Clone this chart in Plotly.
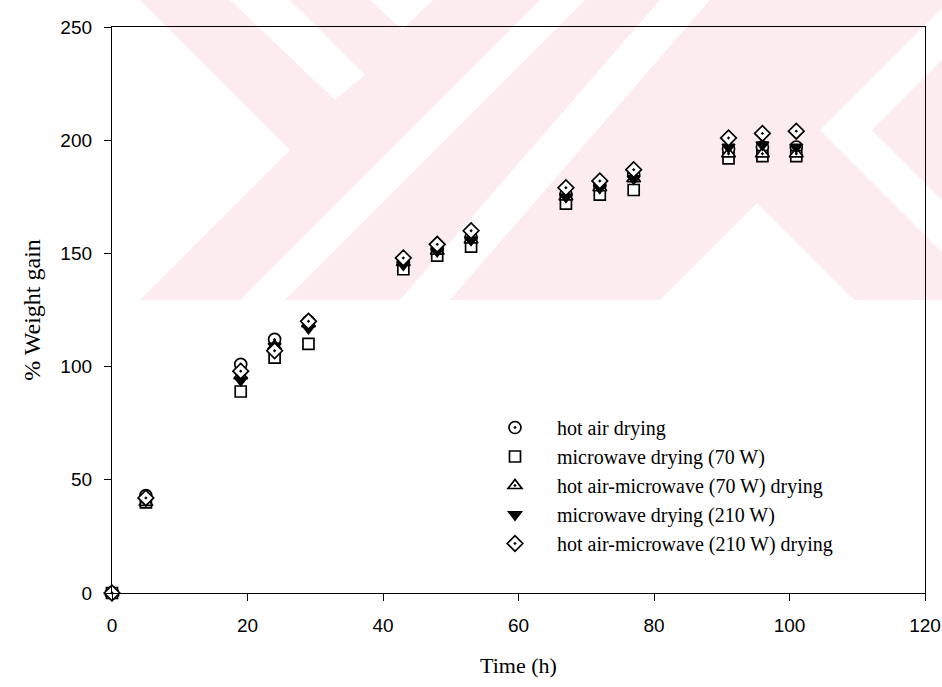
import plotly.graph_objects as go

# ---- data ----
time_h = [0, 5, 19, 24, 29, 43, 48, 53, 67, 72, 77, 91, 96, 101]
hot_air = [0, 43, 101, 112, 120, 146, 152, 157, 176, 180, 185, 196, 197, 197]
mw_70 = [0, 40, 89, 104, 110, 143, 149, 153, 172, 176, 178, 192, 193, 193]
ha_mw_70 = [0, 40, 96, 109, 119, 146, 151, 156, 175, 179, 183, 194, 194, 194]
mw_210 = [0, 41, 94, 109, 117, 145, 151, 156, 175, 179, 183, 197, 198, 197]
ha_mw_210 = [0, 42, 98, 107, 120, 148, 154, 160, 179, 182, 187, 201, 203, 204]

series_names = [
    "hot air drying",
    "microwave drying (70 W)",
    "hot air-microwave (70 W) drying",
    "microwave drying (210 W)",
    "hot air-microwave (210 W) drying",
]
series_values = [hot_air, mw_70, ha_mw_70, mw_210, ha_mw_210]
x_ticks = [0, 20, 40, 60, 80, 100, 120]
y_ticks = [0, 50, 100, 150, 200, 250]

# ---- styling ----
W, H = 942, 687
L, R, T, B = 112, 17, 27, 94
PW, PH = W - L - R, H - T - B

symbols = ["circle-dot", "square", "triangle-up-dot", "triangle-down", "diamond-dot"]
fills = ["white", "white", "white", "black", "white"]
sizes = [12, 11, 12, 11, 12]

fig = go.Figure()
for name, vals, sym, fc, sz in zip(series_names, series_values, symbols, fills, sizes):
    fig.add_trace(go.Scatter(
        x=time_h, y=vals, mode="markers", name=name, cliponaxis=False,
        marker=dict(symbol=sym, size=sz, color=fc, line=dict(color="black", width=1.7)),
    ))

# ---- faint watermark (background decoration) ----
def pp(px, py):
    return ((px - L) / PW, (H - B - py) / PH)

def path(points):
    pts = [pp(x, y) for x, y in points]
    return "M " + " L ".join(f"{x:.4f},{y:.4f}" for x, y in pts) + " Z"

pink = "rgb(252,235,239)"
shapes = []
shapes.append(dict(type="path", xref="paper", yref="paper", layer="below", line=dict(width=0),
                   fillcolor=pink,
                   path=path([(140, 0), (942, 0), (942, 300), (140, 300), (290, 150)])))
white_polys = [
    [(230, 0), (290, 0), (365, 75), (335, 100)],
    [(370, 0), (433, 0), (402, 30)],
    [(540, 0), (585, 0), (285, 300), (240, 300)],
    [(660, 0), (710, 0), (450, 300), (400, 300)],
    [(757, 203), (854, 300), (660, 300)],
    [(820, 130), (942, 8), (942, 60), (872, 130), (942, 200), (942, 252)],
]
for poly in white_polys:
    shapes.append(dict(type="path", xref="paper", yref="paper", layer="below", line=dict(width=0),
                       fillcolor="white", path=path(poly)))

tick_font = dict(family="Liberation Sans, Arial, sans-serif", size=19, color="black")
serif = "Liberation Serif, Times New Roman, serif"

fig.update_layout(
    width=W, height=H,
    margin=dict(l=L, r=R, t=T, b=B, autoexpand=False),
    paper_bgcolor="white", plot_bgcolor="rgba(0,0,0,0)",
    shapes=shapes,
    showlegend=True,
    legend=dict(
        x=pp(473, 0)[0], y=pp(0, 408)[1], xanchor="left", yanchor="top",
        bgcolor="rgba(0,0,0,0)", borderwidth=0,
        font=dict(family=serif, size=20, color="black"),
        itemwidth=74, tracegroupgap=0,
    ),
    xaxis=dict(
        range=[0, 120], tickvals=x_ticks, ticktext=[str(v) for v in x_ticks],
        showgrid=False, zeroline=False, showline=True, linecolor="black", linewidth=1.3,
        mirror=True, ticks="outside", ticklen=7, tickwidth=1.2, tickcolor="black",
        tickfont=tick_font, ticklabelstandoff=8,
        title=dict(text="Time (h)", font=dict(family=serif, size=22, color="black"), standoff=22),
    ),
    yaxis=dict(
        range=[0, 250], tickvals=y_ticks, ticktext=[str(v) for v in y_ticks],
        showgrid=False, zeroline=False, showline=True, linecolor="black", linewidth=1.3,
        mirror=True, ticks="outside", ticklen=7, tickwidth=1.2, tickcolor="black",
        tickfont=tick_font, ticklabelstandoff=8,
        title=dict(text="% Weight gain", font=dict(family=serif, size=24, color="black"), standoff=12),
    ),
)

fig.write_html("out.html")
